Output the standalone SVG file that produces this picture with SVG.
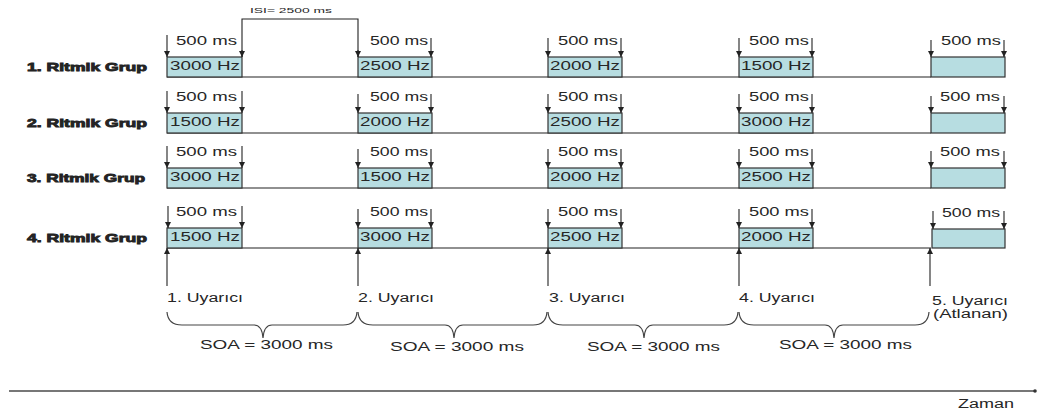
<svg xmlns="http://www.w3.org/2000/svg" width="1038" height="419" viewBox="0 0 1038 419">
<style>
text{font-family:"Liberation Sans",Arial,sans-serif;fill:#262626}
.grp{font-size:11px;font-weight:bold;stroke:#222;stroke-width:0.8}
.ms{font-size:13px}
.hz{font-size:12.5px}
.lbl{font-size:12.5px}
.box{fill:#b7dde1;stroke:#333;stroke-width:1.2}
.base{stroke:#222;stroke-width:1.2;fill:none}
.arr{stroke:#222;stroke-width:1.1;fill:none}
.brace{stroke:#444;stroke-width:1.2;fill:none}
</style>
<defs>
<marker id="ah" viewBox="0 0 10 10" refX="10" refY="5" markerWidth="6" markerHeight="6" orient="auto" markerUnits="userSpaceOnUse">
<path d="M0,0 L10,5 L0,10 z" fill="#222"/>
</marker>
</defs>

<g id="row1">
<text class="grp" x="27" y="71" textLength="120" lengthAdjust="spacingAndGlyphs">1. Ritmik Grup</text>
<line class="base" x1="167" y1="77" x2="931" y2="77"/>
<rect class="box" x="167" y="57" width="75" height="20"/>
<rect class="box" x="358" y="57" width="74" height="20"/>
<rect class="box" x="548" y="57" width="74" height="20"/>
<rect class="box" x="739" y="57" width="74" height="20"/>
<rect class="box" x="931" y="57" width="74" height="20"/>
<text class="hz" x="170" y="70" textLength="70" lengthAdjust="spacingAndGlyphs">3000 Hz</text>
<text class="hz" x="360" y="70" textLength="70" lengthAdjust="spacingAndGlyphs">2500 Hz</text>
<text class="hz" x="550" y="70" textLength="70" lengthAdjust="spacingAndGlyphs">2000 Hz</text>
<text class="hz" x="741" y="70" textLength="70" lengthAdjust="spacingAndGlyphs">1500 Hz</text>
<text class="ms" x="176" y="45" textLength="61" lengthAdjust="spacingAndGlyphs">500 ms</text>
<text class="ms" x="370" y="45" textLength="58" lengthAdjust="spacingAndGlyphs">500 ms</text>
<text class="ms" x="558" y="45" textLength="60" lengthAdjust="spacingAndGlyphs">500 ms</text>
<text class="ms" x="749" y="45" textLength="60" lengthAdjust="spacingAndGlyphs">500 ms</text>
<text class="ms" x="941" y="45" textLength="60" lengthAdjust="spacingAndGlyphs">500 ms</text>
</g>

<g id="row2">
<text class="grp" x="27" y="127" textLength="120" lengthAdjust="spacingAndGlyphs">2. Ritmik Grup</text>
<line class="base" x1="167" y1="133" x2="931" y2="133"/>
<rect class="box" x="167" y="113" width="75" height="20"/>
<rect class="box" x="358" y="113" width="74" height="20"/>
<rect class="box" x="548" y="113" width="74" height="20"/>
<rect class="box" x="739" y="113" width="74" height="20"/>
<rect class="box" x="931" y="113" width="74" height="20"/>
<text class="hz" x="170" y="126" textLength="70" lengthAdjust="spacingAndGlyphs">1500 Hz</text>
<text class="hz" x="360" y="126" textLength="70" lengthAdjust="spacingAndGlyphs">2000 Hz</text>
<text class="hz" x="550" y="126" textLength="70" lengthAdjust="spacingAndGlyphs">2500 Hz</text>
<text class="hz" x="741" y="126" textLength="70" lengthAdjust="spacingAndGlyphs">3000 Hz</text>
<text class="ms" x="176" y="101" textLength="61" lengthAdjust="spacingAndGlyphs">500 ms</text>
<text class="ms" x="370" y="101" textLength="58" lengthAdjust="spacingAndGlyphs">500 ms</text>
<text class="ms" x="558" y="101" textLength="60" lengthAdjust="spacingAndGlyphs">500 ms</text>
<text class="ms" x="749" y="101" textLength="60" lengthAdjust="spacingAndGlyphs">500 ms</text>
<text class="ms" x="940" y="101" textLength="60" lengthAdjust="spacingAndGlyphs">500 ms</text>
</g>

<g id="row3">
<text class="grp" x="27" y="182" textLength="118" lengthAdjust="spacingAndGlyphs">3. Ritmik Grup</text>
<line class="base" x1="167" y1="188" x2="931" y2="188"/>
<rect class="box" x="167" y="168" width="75" height="20"/>
<rect class="box" x="358" y="168" width="74" height="20"/>
<rect class="box" x="548" y="168" width="74" height="20"/>
<rect class="box" x="739" y="168" width="74" height="20"/>
<rect class="box" x="931" y="168" width="74" height="20"/>
<text class="hz" x="170" y="181" textLength="70" lengthAdjust="spacingAndGlyphs">3000 Hz</text>
<text class="hz" x="360" y="181" textLength="70" lengthAdjust="spacingAndGlyphs">1500 Hz</text>
<text class="hz" x="550" y="181" textLength="70" lengthAdjust="spacingAndGlyphs">2000 Hz</text>
<text class="hz" x="741" y="181" textLength="70" lengthAdjust="spacingAndGlyphs">2500 Hz</text>
<text class="ms" x="176" y="156" textLength="61" lengthAdjust="spacingAndGlyphs">500 ms</text>
<text class="ms" x="370" y="156" textLength="58" lengthAdjust="spacingAndGlyphs">500 ms</text>
<text class="ms" x="558" y="156" textLength="60" lengthAdjust="spacingAndGlyphs">500 ms</text>
<text class="ms" x="749" y="156" textLength="60" lengthAdjust="spacingAndGlyphs">500 ms</text>
<text class="ms" x="940" y="156" textLength="60" lengthAdjust="spacingAndGlyphs">500 ms</text>
</g>

<g id="row4">
<text class="grp" x="27" y="242" textLength="120" lengthAdjust="spacingAndGlyphs">4. Ritmik Grup</text>
<line class="base" x1="167" y1="248" x2="931" y2="248"/>
<rect class="box" x="167" y="228" width="75" height="20"/>
<rect class="box" x="358" y="228" width="74" height="20"/>
<rect class="box" x="548" y="228" width="74" height="20"/>
<rect class="box" x="739" y="228" width="74" height="20"/>
<rect class="box" x="932" y="229" width="73" height="19"/>
<text class="hz" x="170" y="241" textLength="70" lengthAdjust="spacingAndGlyphs">1500 Hz</text>
<text class="hz" x="360" y="241" textLength="70" lengthAdjust="spacingAndGlyphs">3000 Hz</text>
<text class="hz" x="550" y="241" textLength="70" lengthAdjust="spacingAndGlyphs">2500 Hz</text>
<text class="hz" x="741" y="241" textLength="70" lengthAdjust="spacingAndGlyphs">2000 Hz</text>
<text class="ms" x="176" y="216" textLength="61" lengthAdjust="spacingAndGlyphs">500 ms</text>
<text class="ms" x="370" y="216" textLength="58" lengthAdjust="spacingAndGlyphs">500 ms</text>
<text class="ms" x="558" y="216" textLength="60" lengthAdjust="spacingAndGlyphs">500 ms</text>
<text class="ms" x="749" y="216" textLength="60" lengthAdjust="spacingAndGlyphs">500 ms</text>
<text class="ms" x="942" y="217" textLength="58" lengthAdjust="spacingAndGlyphs">500 ms</text>
</g>

<g id="isi">
<text x="250" y="13" style="font-size:8px" textLength="82" lengthAdjust="spacingAndGlyphs">ISI= 2500 ms</text>
</g>

<g id="stimuli">
<text class="lbl" x="167" y="302" textLength="76" lengthAdjust="spacingAndGlyphs">1. Uyarıcı</text>
<text class="lbl" x="358" y="302" textLength="76" lengthAdjust="spacingAndGlyphs">2. Uyarıcı</text>
<text class="lbl" x="549" y="302" textLength="76" lengthAdjust="spacingAndGlyphs">3. Uyarıcı</text>
<text class="lbl" x="739" y="302" textLength="76" lengthAdjust="spacingAndGlyphs">4. Uyarıcı</text>
<text class="lbl" x="932" y="305" textLength="76" lengthAdjust="spacingAndGlyphs">5. Uyarıcı</text>
<text class="lbl" x="933" y="318" textLength="75" lengthAdjust="spacingAndGlyphs">(Atlanan)</text>
</g>

<g id="soa">
<text class="lbl" x="200" y="349" textLength="133" lengthAdjust="spacingAndGlyphs">SOA = 3000 ms</text>
<text class="lbl" x="390" y="351" textLength="134" lengthAdjust="spacingAndGlyphs">SOA = 3000 ms</text>
<text class="lbl" x="587" y="351" textLength="133" lengthAdjust="spacingAndGlyphs">SOA = 3000 ms</text>
<text class="lbl" x="779" y="349" textLength="133" lengthAdjust="spacingAndGlyphs">SOA = 3000 ms</text>
</g>

<g id="time-axis">
<line x1="9" y1="391" x2="1035" y2="391" stroke="#777" stroke-width="2"/>
<circle cx="1035" cy="391" r="1.8" fill="#333"/>
<text class="lbl" x="958" y="408" textLength="56" lengthAdjust="spacingAndGlyphs">Zaman</text>
</g>

<g id="connectors">
<polyline class="arr" points="242,57 242,19 358,19 358,57"/>
<path class="arr" marker-end="url(#ah)" d="M242,50 L242,57"/>
<path class="arr" marker-end="url(#ah)" d="M358,50 L358,57"/>
<path class="arr" marker-end="url(#ah)" d="M167,35 V57"/>
<path class="arr" marker-end="url(#ah)" d="M548,38 V57"/>
<path class="arr" marker-end="url(#ah)" d="M431,38 V57"/>
<path class="arr" marker-end="url(#ah)" d="M621,38 V57"/>
<path class="arr" marker-end="url(#ah)" d="M739,38 V57"/>
<path class="arr" marker-end="url(#ah)" d="M812,38 V57"/>
<path class="arr" marker-end="url(#ah)" d="M931,40 V57"/>
<path class="arr" marker-end="url(#ah)" d="M1004,40 V57"/>
<path class="arr" marker-end="url(#ah)" d="M167,91 V113"/>
<path class="arr" marker-end="url(#ah)" d="M242,91 V113"/>
<path class="arr" marker-end="url(#ah)" d="M358,94 V113"/>
<path class="arr" marker-end="url(#ah)" d="M431,94 V113"/>
<path class="arr" marker-end="url(#ah)" d="M548,94 V113"/>
<path class="arr" marker-end="url(#ah)" d="M621,94 V113"/>
<path class="arr" marker-end="url(#ah)" d="M739,94 V113"/>
<path class="arr" marker-end="url(#ah)" d="M812,94 V113"/>
<path class="arr" marker-end="url(#ah)" d="M931,96 V113"/>
<path class="arr" marker-end="url(#ah)" d="M1004,96 V113"/>
<path class="arr" marker-end="url(#ah)" d="M167,146 V168"/>
<path class="arr" marker-end="url(#ah)" d="M242,146 V168"/>
<path class="arr" marker-end="url(#ah)" d="M358,149 V168"/>
<path class="arr" marker-end="url(#ah)" d="M431,149 V168"/>
<path class="arr" marker-end="url(#ah)" d="M548,149 V168"/>
<path class="arr" marker-end="url(#ah)" d="M621,149 V168"/>
<path class="arr" marker-end="url(#ah)" d="M739,149 V168"/>
<path class="arr" marker-end="url(#ah)" d="M812,149 V168"/>
<path class="arr" marker-end="url(#ah)" d="M931,151 V168"/>
<path class="arr" marker-end="url(#ah)" d="M1004,151 V168"/>
<path class="arr" marker-end="url(#ah)" d="M168,206 V228"/>
<path class="arr" marker-end="url(#ah)" d="M242,206 V228"/>
<path class="arr" marker-end="url(#ah)" d="M358,209 V228"/>
<path class="arr" marker-end="url(#ah)" d="M431,209 V228"/>
<path class="arr" marker-end="url(#ah)" d="M548,209 V228"/>
<path class="arr" marker-end="url(#ah)" d="M621,209 V228"/>
<path class="arr" marker-end="url(#ah)" d="M739,209 V228"/>
<path class="arr" marker-end="url(#ah)" d="M812,209 V228"/>
<path class="arr" marker-end="url(#ah)" d="M933,211 V229"/>
<path class="arr" marker-end="url(#ah)" d="M1004,211 V229"/>
<path class="arr" marker-end="url(#ah)" d="M167,286 V248"/>
<path class="arr" marker-end="url(#ah)" d="M358,286 V248"/>
<path class="arr" marker-end="url(#ah)" d="M548,286 V248"/>
<path class="arr" marker-end="url(#ah)" d="M739,286 V248"/>
<path class="arr" marker-end="url(#ah)" d="M930,286 V248"/>
<path class="brace" d="M167,312 Q168,325 182,325 L254,325 Q262,325 263,338 Q264,325 272,325 L343,325 Q356,325 357,312"/>
<path class="brace" d="M358,312 Q359,325 373,325 L445,325 Q453,325 454,338 Q455,325 463,325 L533,325 Q546,325 547,312"/>
<path class="brace" d="M548,312 Q549,325 563,325 L635,325 Q643,325 644,338 Q645,325 653,325 L724,325 Q737,325 738,312"/>
<path class="brace" d="M739,312 Q740,325 754,325 L825,325 Q833,325 834,338 Q835,325 843,325 L915,325 Q928,325 929,312"/>
</g>
</svg>
